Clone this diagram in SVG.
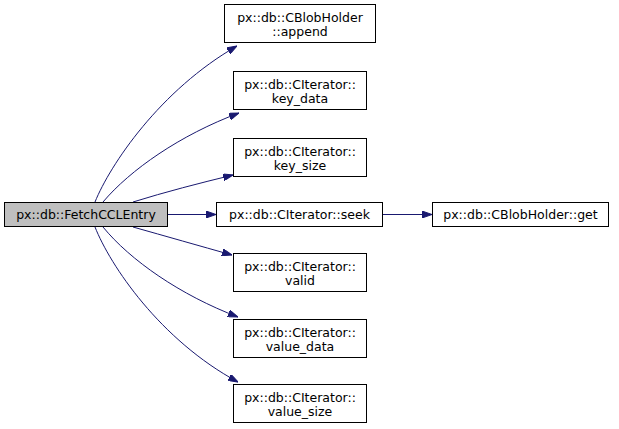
<svg xmlns="http://www.w3.org/2000/svg" width="619" height="429" viewBox="0 0 619 429">
<style>
.box{fill:#ffffff;stroke:#000000;stroke-width:1}
.main{fill:#bfbfbf;stroke:#000000;stroke-width:1}
text{font-family:"DejaVu Sans",sans-serif;font-size:12.5px;fill:#000000;text-anchor:middle}
.edge{fill:none;stroke:#191970;stroke-width:1;marker-end:url(#ah)}
</style>
<defs>
<marker id="ah" viewBox="0 0 10 7" markerUnits="userSpaceOnUse" markerWidth="10" markerHeight="7" refX="10" refY="3.5" orient="auto">
<path d="M0,0 L10,3.5 L0,7 z" fill="#191970" stroke="#191970"/>
</marker>
</defs>
<rect width="619" height="429" fill="#ffffff"/>
<g id="connectors">
<path class="edge" d="M95,202 C110,165 160,90 237,46"/>
<path class="edge" d="M103,202 C130,170 180,135 239,113"/>
<path class="edge" d="M133,202 C165,192 200,183 233,175"/>
<path class="edge" d="M168,214.5 L216,214.5"/>
<path class="edge" d="M133,227 C165,236 200,246 232,255"/>
<path class="edge" d="M103,227 C130,260 180,295 238,317"/>
<path class="edge" d="M95,227 C110,265 160,340 238,382"/>
<path class="edge" d="M383,214.5 L432,214.5"/>
</g>
<g id="node_main"><rect class="main" x="4.5" y="202.5" width="163" height="24"/><text x="86" y="219">px::db::FetchCCLEntry</text></g>
<g id="node_append"><rect class="box" x="224.5" y="4.5" width="151" height="38"/><text x="300" y="22">px::db::CBlobHolder</text><text x="300" y="36">::append</text></g>
<g id="node_key_data"><rect class="box" x="233.5" y="71.5" width="133" height="38"/><text x="300" y="89">px::db::CIterator::</text><text x="300" y="103">key_data</text></g>
<g id="node_key_size"><rect class="box" x="233.5" y="138.5" width="133" height="38"/><text x="300" y="156">px::db::CIterator::</text><text x="300" y="170">key_size</text></g>
<g id="node_seek"><rect class="box" x="216.5" y="202.5" width="166" height="24"/><text x="299.5" y="219">px::db::CIterator::seek</text></g>
<g id="node_get"><rect class="box" x="432.5" y="202.5" width="176" height="24"/><text x="520.5" y="219">px::db::CBlobHolder::get</text></g>
<g id="node_valid"><rect class="box" x="233.5" y="253.5" width="133" height="38"/><text x="300" y="271">px::db::CIterator::</text><text x="300" y="285">valid</text></g>
<g id="node_value_data"><rect class="box" x="233.5" y="319.5" width="133" height="38"/><text x="300" y="337">px::db::CIterator::</text><text x="300" y="351">value_data</text></g>
<g id="node_value_size"><rect class="box" x="233.5" y="384.5" width="133" height="38"/><text x="300" y="402">px::db::CIterator::</text><text x="300" y="416">value_size</text></g>
</svg>
